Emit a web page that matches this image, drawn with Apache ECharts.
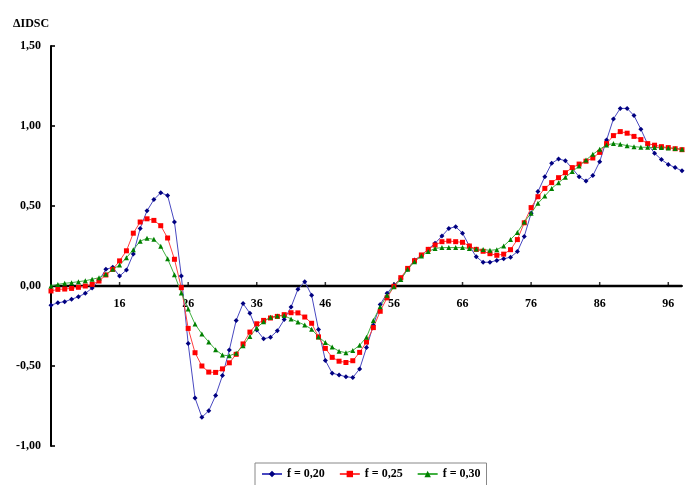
<!DOCTYPE html>
<html>
<head>
<meta charset="utf-8">
<script src="https://cdn.jsdelivr.net/npm/echarts@6/dist/echarts.min.js"></script>
<style>
html,body{margin:0;padding:0;background:#fff;}
#chart{width:685px;height:485px;background:#fff;}
</style>
</head>
<body>
<div id="chart"></div>
<script>
const xValues = [6,7,8,9,10,11,12,13,14,15,16,17,18,19,20,21,22,23,24,25,26,27,28,29,30,31,32,33,34,35,36,37,38,39,40,41,42,43,44,45,46,47,48,49,50,51,52,53,54,55,56,57,58,59,60,61,62,63,64,65,66,67,68,69,70,71,72,73,74,75,76,77,78,79,80,81,82,83,84,85,86,87,88,89,90,91,92,93,94,95,96,97,98];

const xTickLabels = [16,26,36,46,56,66,76,86,96];
const yTickValues = [-1,-0.5,0,0.5,1,1.5];

const seriesNames = ['f = 0,20', 'f = 0,25', 'f = 0,30'];

const f020 = [-0.12,-0.105,-0.098,-0.083,-0.067,-0.046,-0.013,0.035,0.104,0.117,
  0.062,0.10,0.20,0.36,0.47,0.54,0.583,0.566,0.40,0.063,
  -0.36,-0.70,-0.82,-0.78,-0.685,-0.56,-0.40,-0.215,-0.11,-0.17,
  -0.275,-0.33,-0.32,-0.28,-0.21,-0.132,-0.02,0.027,-0.058,-0.272,
  -0.465,-0.545,-0.556,-0.567,-0.572,-0.518,-0.385,-0.245,-0.115,-0.046,
  0.006,0.048,0.104,0.162,0.19,0.23,0.267,0.312,0.36,0.37,
  0.33,0.25,0.183,0.148,0.149,0.16,0.17,0.18,0.215,0.31,
  0.454,0.59,0.683,0.767,0.794,0.783,0.735,0.683,0.656,0.69,
  0.777,0.912,1.044,1.11,1.11,1.065,0.98,0.886,0.83,0.79,
  0.76,0.74,0.72];

const f025 = [-0.031,-0.021,-0.019,-0.015,-0.008,0.0,0.01,0.031,0.069,0.104,
  0.157,0.22,0.33,0.40,0.42,0.41,0.377,0.30,0.167,-0.01,
  -0.265,-0.417,-0.50,-0.538,-0.54,-0.518,-0.48,-0.427,-0.362,-0.288,
  -0.236,-0.215,-0.2,-0.19,-0.179,-0.167,-0.168,-0.194,-0.233,-0.318,
  -0.39,-0.446,-0.47,-0.478,-0.467,-0.415,-0.35,-0.26,-0.158,-0.074,
  -0.002,0.052,0.11,0.158,0.194,0.229,0.256,0.277,0.281,0.277,
  0.273,0.25,0.229,0.217,0.202,0.192,0.199,0.227,0.29,0.395,
  0.49,0.558,0.61,0.646,0.677,0.708,0.74,0.762,0.78,0.8,
  0.835,0.89,0.94,0.965,0.955,0.935,0.915,0.89,0.88,0.871,
  0.865,0.858,0.852];

const f030 = [0.0,0.01,0.017,0.021,0.027,0.033,0.042,0.052,0.073,0.104,
  0.131,0.177,0.227,0.28,0.298,0.292,0.248,0.17,0.07,-0.043,
  -0.143,-0.238,-0.30,-0.35,-0.398,-0.432,-0.436,-0.42,-0.373,-0.315,
  -0.262,-0.223,-0.195,-0.187,-0.185,-0.206,-0.225,-0.244,-0.27,-0.318,
  -0.353,-0.382,-0.408,-0.417,-0.403,-0.37,-0.32,-0.215,-0.129,-0.058,
  -0.004,0.04,0.104,0.152,0.188,0.215,0.235,0.24,0.24,0.24,
  0.24,0.235,0.231,0.228,0.223,0.227,0.25,0.29,0.335,0.40,
  0.455,0.517,0.562,0.61,0.646,0.679,0.715,0.75,0.787,0.823,
  0.854,0.882,0.89,0.886,0.877,0.871,0.867,0.867,0.865,0.865,
  0.863,0.86,0.855];

const yRange = {min: -1, max: 1.5, step: 0.5};
const xLabelStep = 10;

const serif = '"Liberation Serif", "DejaVu Serif", serif';
const chart = echarts.init(document.getElementById('chart'), null, {renderer: 'canvas'});

function pairs(arr) { return xValues.map((x, i) => [x, arr[i]]); }

function toNum(v) {
  if (typeof v === 'number') return v;
  if (v && typeof v === 'object' && 'value' in v) return Number(v.value);
  return parseFloat(v);
}
function fmtY(v) {
  const n = toNum(v);
  if (!isFinite(n)) return '';
  return n.toFixed(2).replace('.', ',');
}
function fmtX(v) {
  const n = toNum(v);
  if (!isFinite(n)) return '';
  const r = Math.round(n);
  return xTickLabels.indexOf(r) >= 0 ? String(r) : '';
}

// grid geometry; the x axis labels are lifted from the grid bottom to the y = 0 level
const gridTop = 46, gridBottom = 39, chartH = 485;
const plotH = chartH - gridTop - gridBottom;
const zeroLift = plotH * (0 - yRange.min) / (yRange.max - yRange.min);

const xFirst = xValues[0], xLast = xValues[xValues.length - 1];

const option = {
  animation: false,
  title: {
    text: 'ΔIDSC',
    left: 8, top: 13,
    textStyle: {fontFamily: serif, fontWeight: 'bold', fontSize: 12, color: '#000'}
  },
  grid: {left: 51, right: 0, top: gridTop, bottom: gridBottom},
  legend: {
    left: 255, top: 463,
    data: seriesNames,
    itemWidth: 20, itemHeight: 8, itemGap: 14,
    padding: [5, 6, 8, 6],
    borderColor: '#888', borderWidth: 1,
    textStyle: {fontFamily: serif, fontWeight: 'bold', fontSize: 12, color: '#000'}
  },
  xAxis: {
    type: 'value',
    position: 'bottom',
    offset: -zeroLift,
    min: xFirst, max: xLast,
    interval: xLabelStep,
    axisLine: {show: true, onZero: false, lineStyle: {color: '#000', width: 2}},
    axisTick: {show: false},
    splitLine: {show: false},
    axisLabel: {
      margin: 12,
      fontFamily: serif, fontWeight: 'bold', fontSize: 12, color: '#000',
      formatter: fmtX
    }
  },
  yAxis: {
    type: 'value',
    min: yRange.min, max: yRange.max, interval: yRange.step,
    axisLine: {show: true, onZero: false, lineStyle: {color: '#000', width: 2}},
    axisTick: {show: false},
    splitLine: {show: false},
    axisLabel: {
      margin: 10,
      fontFamily: serif, fontWeight: 'bold', fontSize: 12, color: '#000',
      formatter: fmtY
    }
  },
  series: [
    {
      name: 'zero-axis', type: 'line', silent: true, z: 1,
      data: [[xFirst, 0], [xLast, 0]],
      symbol: 'none',
      lineStyle: {color: '#000', width: 2.5},
      tooltip: {show: false}
    },
    {
      name: 'x-ticks', type: 'scatter', silent: true, z: 1,
      data: xTickLabels.map(v => [v, 0]),
      symbol: 'rect', symbolSize: [1.5, 4], symbolOffset: [0, -2],
      itemStyle: {color: '#000'}
    },
    {
      name: 'y-ticks', type: 'scatter', silent: true, z: 1,
      data: yTickValues.map(v => [xFirst, v]),
      symbol: 'rect', symbolSize: [4, 2], symbolOffset: [2, 0],
      itemStyle: {color: '#000'}
    },
    {
      name: seriesNames[0], type: 'line', data: pairs(f020),
      symbol: 'diamond', symbolSize: 5, showAllSymbol: true,
      lineStyle: {color: '#4848c0', width: 1},
      itemStyle: {color: '#000080'}
    },
    {
      name: seriesNames[1], type: 'line', data: pairs(f025),
      symbol: 'rect', symbolSize: 5, showAllSymbol: true,
      lineStyle: {color: '#ff4040', width: 1},
      itemStyle: {color: '#ff0000'}
    },
    {
      name: seriesNames[2], type: 'line', data: pairs(f030),
      symbol: 'triangle', symbolSize: 5, showAllSymbol: true,
      lineStyle: {color: '#40b040', width: 1},
      itemStyle: {color: '#008000'}
    }
  ]
};
chart.setOption(option);
</script>
</body>
</html>
